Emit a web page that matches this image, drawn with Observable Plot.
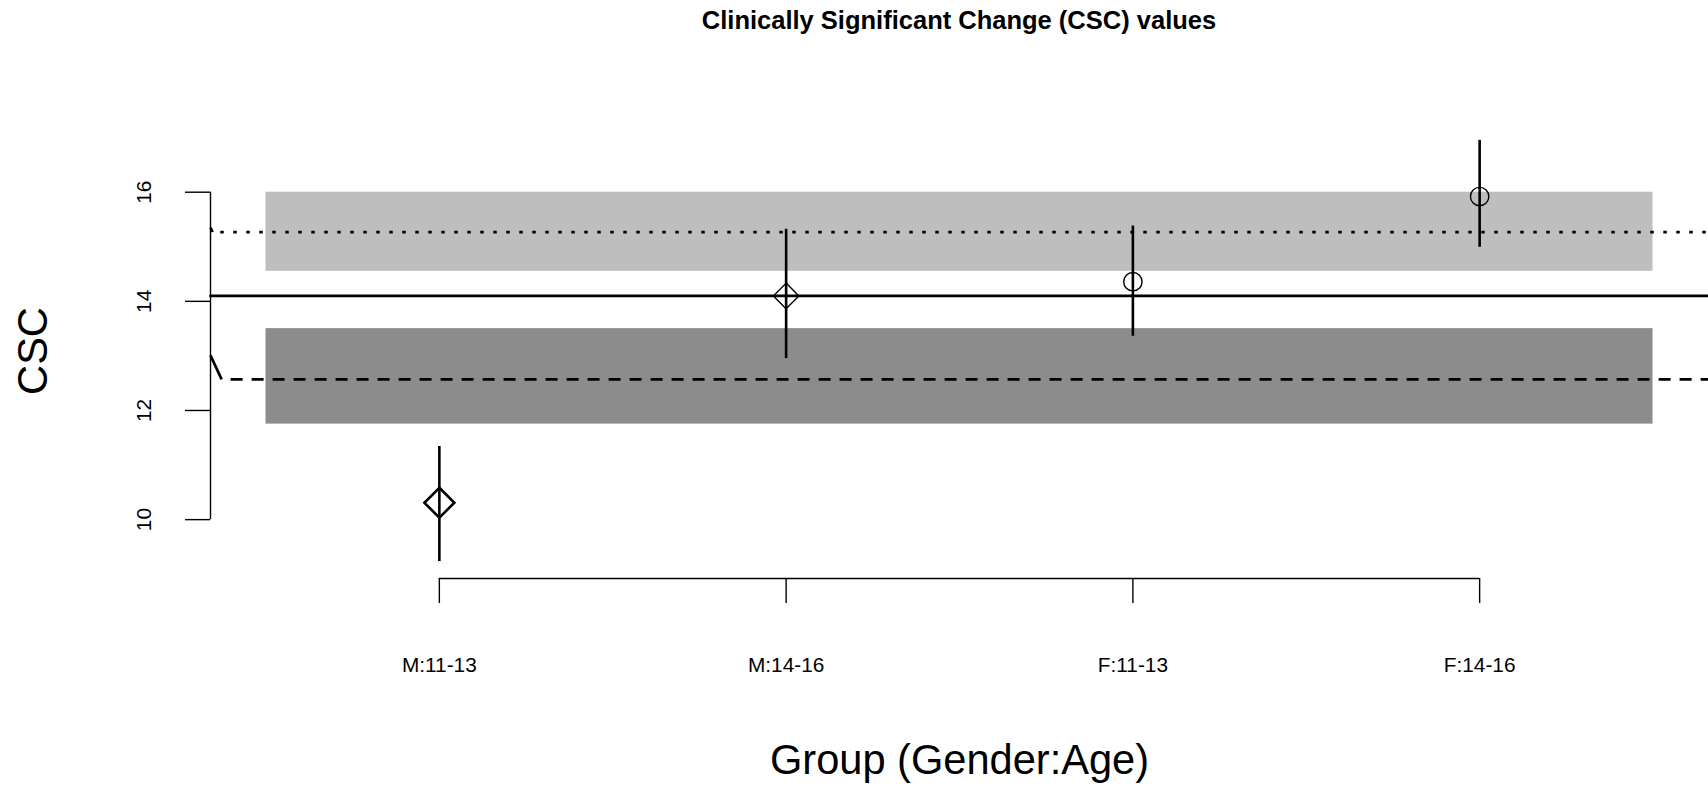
<!DOCTYPE html>
<html><head><meta charset="utf-8">
<script src="https://cdn.jsdelivr.net/npm/d3@7"></script>
<script src="https://cdn.jsdelivr.net/npm/@observablehq/plot@0.6"></script>
<style>
body{margin:0;background:#fff;}
#title{width:1708px;box-sizing:border-box;padding-left:210px;padding-top:6px;height:42px;line-height:42px;text-align:center;font:bold 25.5px "Liberation Sans",Arial,Helvetica,sans-serif;color:#000;overflow:visible;}
#chart svg{display:block;}
</style></head><body>
<div id="title">Clinically Significant Change (CSC) values</div>
<div id="chart"></div>
<script>
// Groups and CSC estimates with their intervals
const groups = ["M:11-13", "M:14-16", "F:11-13", "F:14-16"];
const csc    = [10.31, 14.10, 14.36, 15.92];
const lower  = [9.23, 12.95, 13.36, 14.99];
const upper  = [11.34, 15.32, 15.38, 16.95];
const yTicks = [10, 12, 14, 16];

// Shaded bands (upper light band, lower dark band)
const bandLow  = [14.55, 11.75];
const bandHigh = [16.00, 13.50];

// Reference lines
const solidLineValue  = 14.10;
const dottedLineValue = 15.27;
const dashedLineValue = 12.57;
// short slanted starts of the dotted / dashed lines at the left edge
const slantStartY = [15.35, 13.01];
const slantEndX   = [0.346, 0.372];

const n = groups.length;
const xLo = 0.5 - 0.04 * n, xHi = n + 0.5 + 0.04 * n;
const yMin = d3.min(lower), yMax = d3.max(upper), yPad = 0.04 * (yMax - yMin);
const yLo = yMin - yPad, yHi = yMax + yPad;
const idx = d3.range(n);

const chart = Plot.plot({
  width: 1708, height: 745,
  marginLeft: 210, marginRight: 0, marginTop: 81, marginBottom: 209,
  x: {type: "linear", domain: [xLo, xHi], label: null},
  y: {type: "linear", domain: [yLo, yHi], label: null},
  style: {fontFamily: "'Liberation Sans', Arial, Helvetica, sans-serif", fontSize: "20.8px", background: "white", color: "black"},
  marks: [
    // bands
    Plot.rect([0], {x1: 0.5, x2: n + 0.5, y1: i => bandLow[i], y2: i => bandHigh[i], fill: "#bebebe"}),
    Plot.rect([1], {x1: 0.5, x2: n + 0.5, y1: i => bandLow[i], y2: i => bandHigh[i], fill: "#8c8c8c"}),
    // reference lines
    Plot.line([xLo, xHi], {x: d => d, y: () => solidLineValue, stroke: "black", strokeWidth: 2.7}),
    Plot.line([slantEndX[0], xHi], {x: d => d, y: () => dottedLineValue, stroke: "black", strokeWidth: 2.8,
      strokeDasharray: "3.5,9.5", strokeDashoffset: 5.3, strokeLinecap: "butt"}),
    Plot.line([slantEndX[1], xHi], {x: d => d, y: () => dashedLineValue, stroke: "black", strokeWidth: 2.9,
      strokeDasharray: "12,9", strokeDashoffset: 12, strokeLinecap: "butt"}),
    Plot.link([0, 1], {x1: () => xLo, y1: i => slantStartY[i], x2: i => slantEndX[i],
      y2: i => (i === 0 ? dottedLineValue : dashedLineValue), stroke: "black", strokeWidth: 2.7}),
    // error bars
    Plot.ruleX(idx, {x: i => i + 1, y1: i => lower[i], y2: i => upper[i], stroke: "black", strokeWidth: 2.6}),
    // points
    Plot.dot(idx.filter(i => i === 0), {x: i => i + 1, y: i => csc[i], symbol: "diamond2", r: 13.5, stroke: "black", strokeWidth: 2.6, fill: "none"}),
    Plot.dot(idx.filter(i => i !== 0 && groups[i].startsWith("M")), {x: i => i + 1, y: i => csc[i], symbol: "diamond2", r: 11.5, stroke: "black", strokeWidth: 1.4, fill: "none"}),
    Plot.dot(idx.filter(i => groups[i].startsWith("F")), {x: i => i + 1, y: i => csc[i], symbol: "circle", r: 9.2, stroke: "black", strokeWidth: 1.4, fill: "none"}),
    // axes
    Plot.ruleY([yLo], {x1: 1, x2: n, stroke: "black", strokeWidth: 1.4}),
    Plot.ruleX([xLo], {y1: d3.min(yTicks), y2: d3.max(yTicks), stroke: "black", strokeWidth: 1.4}),
    Plot.axisX({ticks: idx.map(i => i + 1), tickFormat: d => groups[d - 1], tickSize: 25, tickPadding: 54, strokeWidth: 1.4, fontSize: 20.8, label: null}),
    Plot.axisY({ticks: yTicks, tickSize: 25, tickPadding: 34.5, tickRotate: -90, strokeWidth: 1.4, fontSize: 20.8, label: null}),
    // axis titles
    Plot.text(["Group (Gender:Age)"], {frameAnchor: "bottom", dy: 195, fontSize: 41.6, text: d => d}),
    Plot.text(["CSC"], {frameAnchor: "left", textAnchor: "middle", dx: -176.5, rotate: -90, fontSize: 41.6, text: d => d})
  ]
});
document.getElementById("chart").appendChild(chart);
</script>
</body></html>
